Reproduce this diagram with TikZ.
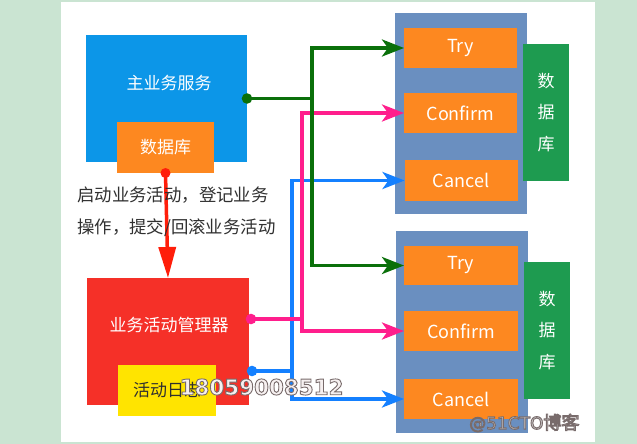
\documentclass[tikz,border=0pt]{standalone}
\usepackage{fontspec}
\setmainfont{Noto Sans CJK SC}
\newfontfamily\wmfont{DejaVu Sans}
\usetikzlibrary{arrows.meta}
\definecolor{bggreen}{RGB}{202,228,210}
\definecolor{mainblue}{RGB}{12,150,232}
\definecolor{dborange}{RGB}{253,136,32}
\definecolor{steel}{RGB}{106,143,192}
\definecolor{dbgreen}{RGB}{30,155,80}
\definecolor{mgrred}{RGB}{245,48,40}
\definecolor{logyellow}{RGB}{255,228,0}
\definecolor{lgreen}{RGB}{10,112,10}
\definecolor{lpink}{RGB}{255,30,140}
\definecolor{lblue}{RGB}{20,128,255}
\definecolor{lred}{RGB}{255,30,10}
\definecolor{desctext}{RGB}{48,48,48}
\definecolor{wmfill}{RGB}{246,240,240}
\definecolor{wmgray}{RGB}{200,196,196}
\newcommand\wmout[2]{{\color{#1}\special{pdf:literal direct 2 Tr 0.9 w 0.47 0.42 0.42 RG}#2\special{pdf:literal direct 0 Tr}}}
\begin{document}
\begin{tikzpicture}[x=1pt,y=-1pt,
  box/.style={draw=none, inner sep=0pt, outer sep=0pt},
  lbl/.style={inner sep=0pt, text=white, font=\fontsize{17}{20}\selectfont},
  lat/.style={inner sep=0pt, text=white, font=\fontsize{18}{20}\selectfont},
  vlbl/.style={inner sep=0pt, text=white, align=center, font=\fontsize{17}{31.5}\selectfont},
  desc/.style={inner sep=0pt, anchor=west, text=desctext, font=\fontsize{17.4}{20}\selectfont},
  conn/.style={line width=3.5pt},
  tip/.style={-{Stealth[length=22pt,width=17pt,inset=6pt]}},
  dot/.style={fill, draw=none}
]
\useasboundingbox (0,0) rectangle (637,444);
\fill[bggreen] (0,0) rectangle (637,444);
\fill[white] (61,2) rectangle (595,442);

% left boxes
\node[box, fill=mainblue, minimum width=161pt, minimum height=127pt] (main) at (166.5,98.5) {};
\node[lbl] (mainlbl) at (169,83) {主业务服务};
\node[box, fill=dborange, minimum width=97pt, minimum height=51pt] (db1) at (165.5,147.5) {};
\node[lbl] (db1lbl) at (db1) {数据库};

\node[box, fill=mgrred, minimum width=162pt, minimum height=127pt] (mgr) at (168,341.5) {};
\node[lbl] (mgrlbl) at (169,325) {业务活动管理器};
\node[box, fill=logyellow, minimum width=98pt, minimum height=51pt] (log) at (167,390.5) {};
\node[lbl, text=desctext] (loglbl) at (log) {活动日志};

% top participant
\node[box, fill=steel, minimum width=132pt, minimum height=201pt] (p1) at (461,113.5) {};
\node[box, fill=dborange, minimum width=113pt, minimum height=40pt] (try1) at (460.5,48) {};
\node[lat] (try1lbl) at (try1) {Try};
\node[box, fill=dborange, minimum width=113pt, minimum height=40pt] (conf1) at (460.5,113) {};
\node[lat] (conf1lbl) at (conf1) {Confirm};
\node[box, fill=dborange, minimum width=113pt, minimum height=41pt] (canc1) at (461,180.5) {};
\node[lat] (canc1lbl) at (canc1) {Cancel};
\node[box, fill=dbgreen, minimum width=46pt, minimum height=137pt] (g1) at (546,112.5) {};
\node[vlbl] (g1lbl) at (g1) {数\\据\\库};

% bottom participant
\node[box, fill=steel, minimum width=132pt, minimum height=202pt] (p2) at (462,332) {};
\node[box, fill=dborange, minimum width=114pt, minimum height=39pt] (try2) at (461,265.5) {};
\node[lat] (try2lbl) at (try2) {Try};
\node[box, fill=dborange, minimum width=114pt, minimum height=40pt] (conf2) at (461,331) {};
\node[lat] (conf2lbl) at (conf2) {Confirm};
\node[box, fill=dborange, minimum width=114pt, minimum height=40pt] (canc2) at (461,399) {};
\node[lat] (canc2lbl) at (canc2) {Cancel};
\node[box, fill=dbgreen, minimum width=46pt, minimum height=137pt] (g2) at (547,330.5) {};
\node[vlbl] (g2lbl) at (g2) {数\\据\\库};

% junctions
\coordinate (gs) at (main.east);
\coordinate (gj) at ([xshift=65pt]main.east);
\coordinate (ps) at ([xshift=2pt,yshift=-41pt]mgr.north east);
\coordinate (pj) at ([xshift=53pt,yshift=-41pt]mgr.north east);
\coordinate (bs) at ([xshift=3pt,yshift=-93pt]mgr.north east);
\coordinate (bj) at ([xshift=43pt,yshift=-93pt]mgr.north east);

% blue connectors
\draw[conn, lblue] (bs) -- (bj);
\draw[conn, lblue, tip] (bj) |- (canc1.west);
\draw[conn, lblue, tip] (bj) |- (canc2.west);
\fill[lblue] (bs) circle (5.3pt);
% pink connectors
\draw[conn, lpink] (ps) -- (pj);
\draw[conn, lpink, tip] (pj) |- (conf1.west);
\draw[conn, lpink, tip] (pj) |- (conf2.west);
\fill[lpink] (ps) circle (5.3pt);
% green connectors
\draw[conn, lgreen] (gs) -- (gj);
\draw[conn, lgreen, tip] (gj) |- (try1.west);
\draw[conn, lgreen, tip] (gj) |- (try2.west);
\fill[lgreen] (gs) circle (5.3pt);

% red connector
\draw[conn, lred, -{Triangle[length=31pt,width=17pt]}] (db1.south) -- (mgr.north);
\fill[lred] (db1.south) circle (5pt);

% description
\node[desc] (d1) at (77,195) {启动业务活动，登记业务};
\node[desc] (d2) at (77,228) {操作，提交/回滚业务活动};

% watermarks
\node[inner sep=0pt, font=\wmfont\bfseries\fontsize{21.4}{24}\selectfont] (wm1) at (261.5,387) {\wmout{wmfill}{18059008512}};
\node[inner sep=0pt, anchor=west, font=\fontsize{18}{20}\selectfont] (wm2) at (469,423) {\wmout{wmgray}{{\wmfont\fontsize{17}{20}\selectfont @51CTO}博客}};
\end{tikzpicture}
\end{document}
